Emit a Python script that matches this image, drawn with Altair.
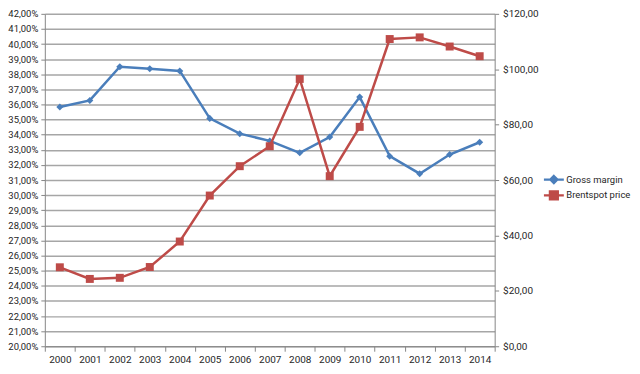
import altair as alt
import pandas as pd

years = [str(y) for y in range(2000, 2015)]
gross_margin = [35.83, 36.27, 38.50, 38.36, 38.22, 35.08, 34.07, 33.59, 32.80, 33.85,
                36.49, 32.58, 31.42, 32.69, 33.50]
brent_price = [28.5, 24.3, 24.7, 28.6, 37.8, 54.4, 65.0, 72.2, 96.5, 61.4,
               79.2, 110.9, 111.5, 108.2, 104.7]
left_ticks = list(range(20, 43))
right_ticks = [0, 20, 40, 60, 80, 100, 120]

BLUE = "#4A7EBB"
RED = "#BE4B48"
GRID = "#A6A6A6"
AXIS = "#868686"
FONT = "Roboto"
TXT = "#262626"

df_m = pd.DataFrame({"year": years, "value": gross_margin, "series": "Gross margin"})
df_b = pd.DataFrame({"year": years, "value": brent_price, "series": "Brentspot price"})

xenc = alt.X(
    "year:O",
    scale=alt.Scale(type="band", paddingInner=0, paddingOuter=0),
    bandPosition=0.5,
    axis=alt.Axis(
        title=None, tickBand="extent", labelAngle=0,
        domainColor=AXIS, tickColor=AXIS, tickSize=5, labelPadding=3,
        labelFont=FONT, labelFontSize=10, labelColor=TXT, grid=False,
    ),
)

y_left = alt.Y(
    "value:Q",
    scale=alt.Scale(domain=[20, 42], nice=False, zero=False),
    axis=alt.Axis(
        title=None, values=left_ticks, orient="left",
        labelExpr="replace(format(datum.value, '.2f'), '.', ',') + '%'",
        grid=True, gridColor=GRID, gridWidth=1.5,
        domainColor=AXIS, tickColor=AXIS, tickSize=4, labelPadding=3,
        labelFont=FONT, labelFontSize=9.5, labelColor=TXT,
    ),
)

y_right = alt.Y(
    "value:Q",
    scale=alt.Scale(domain=[0, 120], nice=False),
    axis=alt.Axis(
        title=None, values=right_ticks, orient="right",
        labelExpr="'$' + replace(format(datum.value, '.2f'), '.', ',')",
        grid=False, domainColor=AXIS, tickColor=AXIS, tickSize=4, labelPadding=4,
        labelFont=FONT, labelFontSize=10, labelColor=TXT,
    ),
)

diamond_sym = "M-1,0H1M0,-0.36L0.36,0L0,0.36L-0.36,0Z"
square_sym = "M-1,0H1M-0.4,-0.4H0.4V0.4H-0.4Z"

line_m = alt.Chart(df_m).mark_line(strokeWidth=2.5).encode(
    x=xenc, y=y_left,
    color=alt.Color(
        "series:N", scale=alt.Scale(range=[BLUE]),
        legend=alt.Legend(
            title=None, orient="none", legendX=500, legendY=155,
            symbolType=diamond_sym, symbolSize=400, symbolStrokeWidth=2.25,
            symbolFillColor=BLUE, symbolStrokeColor=BLUE,
            labelFont=FONT, labelFontSize=9.5, labelColor=TXT, labelOffset=1,
        ),
    ),
)
pt_m = alt.Chart(df_m).mark_point(shape="diamond", filled=True, size=50, color=BLUE, opacity=1).encode(
    x=xenc, y=y_left
)

line_b = alt.Chart(df_b).mark_line(strokeWidth=2.5).encode(
    x=xenc, y=y_right,
    color=alt.Color(
        "series:N", scale=alt.Scale(range=[RED]),
        legend=alt.Legend(
            title=None, orient="none", legendX=500, legendY=171,
            symbolType=square_sym, symbolSize=400, symbolStrokeWidth=2.25,
            symbolFillColor=RED, symbolStrokeColor=RED,
            labelFont=FONT, labelFontSize=9.5, labelColor=TXT, labelOffset=1,
        ),
    ),
)
pt_b = alt.Chart(df_b).mark_point(shape="square", filled=True, size=64, color=RED, opacity=1).encode(
    x=xenc, y=y_right
)

chart = alt.layer(
    alt.layer(line_m, pt_m),
    alt.layer(line_b, pt_b),
).resolve_scale(
    y="independent", color="independent"
).properties(
    width=452, height=334,
    padding={"left": 37, "top": 5, "right": 138, "bottom": 20},
    autosize=alt.AutoSizeParams(type="none"),
    background="white",
).configure_view(stroke=None)

chart.save("out.html", embed_options={"renderer": "svg", "actions": False})
